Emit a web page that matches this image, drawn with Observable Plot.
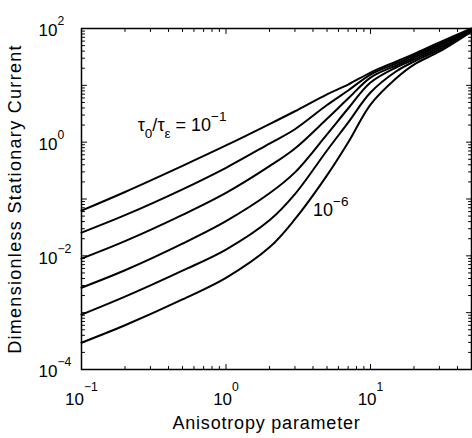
<!DOCTYPE html>
<html><head><meta charset="utf-8">
<script src="https://cdn.jsdelivr.net/npm/d3@7"></script>
<script src="https://cdn.jsdelivr.net/npm/@observablehq/plot@0.6"></script>
<style>body{margin:0;background:#fff}svg{display:block}</style>
</head><body><div id="chart"></div>
<script>
// Anisotropy parameter (x) sample points
const anisotropy = [0.1, 0.2, 0.5, 1, 2, 3, 5, 7, 10, 15, 20, 30, 50];
// Series: tau0/tau_eps ratios
const tauRatios = ["1e-1", "1e-2", "1e-3", "1e-4", "1e-5", "1e-6"];
// Dimensionless stationary current for each ratio
const current_1e1 = [0.0625, 0.133, 0.383, 0.875, 2.08, 3.50, 6.95, 10.3, 16.8, 26.2, 35.6, 56.8, 100];
const current_1e2 = [0.0256, 0.0519, 0.148, 0.354, 0.944, 1.69, 4.50, 8.10, 15.5, 24.2, 33.5, 53.4, 98];
const current_1e3 = [0.00893, 0.0181, 0.0525, 0.128, 0.378, 0.774, 2.58, 5.86, 13.7, 22.3, 30.9, 50.2, 96];
const current_1e4 = [0.00275, 0.00557, 0.0164, 0.0408, 0.126, 0.294, 1.37, 3.91, 11.2, 20.6, 28.5, 46.3, 94];
const current_1e5 = [0.000923, 0.00191, 0.00548, 0.0129, 0.0422, 0.122, 0.714, 2.21, 7.47, 17.5, 26.2, 42.7, 92];
const current_1e6 = [0.000296, 0.000600, 0.00171, 0.00410, 0.0141, 0.0441, 0.260, 0.984, 4.59, 13.2, 23.2, 39.4, 88.5];
// Tick values and labels
const xTickValues = [0.1, 1, 10];
const xTickLabels = ["10^{−1}", "10^{0}", "10^{1}"];
const yTickValues = [1e-4, 1e-2, 1, 100];
const yTickLabels = ["10^{−4}", "10^{−2}", "10^{0}", "10^{2}"];
// Annotations
const annotX = [0.245, 4.0];
const annotY = [1.96, 0.064];
const annotText = ["τ_{0}/τ_{ε} = 10^{−1}", "10^{−6}"];
const xLabel = "Anisotropy parameter";
const yLabel = "Dimensionless Stationary Current";

const seriesValues = [current_1e1, current_1e2, current_1e3, current_1e4, current_1e5, current_1e6];
const rows = tauRatios.flatMap((r, j) => anisotropy.map((x, i) => ({x, y: seriesValues[j][i], series: r})));

const xDomain = [0.1, 50], yDomain = [1e-4, 1e2];
const xMajor = [1, 10];
const xMinor = [];
for (const d of [0.1, 1, 10]) for (let k = 2; k <= 9; k++) { const v = k * d; if (v < 50) xMinor.push(v); }
const yMajor = [1e-3, 1e-2, 1e-1, 1, 10];
const yMinor = [];
for (let e = -4; e < 2; e++) for (let k = 2; k <= 9; k++) yMinor.push(k * 10 ** e);

const tickShape = {draw(ctx, l) { ctx.moveTo(0, 0); ctx.lineTo(0, -l); }};
function ticks(data, axis, len) {
  const common = {length: len, anchor: "start", shape: tickShape, stroke: "black", strokeWidth: 1};
  if (axis === "y") return [
    Plot.vector(data, {...common, x: () => xDomain[0], y: d => d, rotate: 90}),
    Plot.vector(data, {...common, x: () => xDomain[1], y: d => d, rotate: -90})
  ];
  return [
    Plot.vector(data, {...common, y: () => yDomain[0], x: d => d, rotate: 0}),
    Plot.vector(data, {...common, y: () => yDomain[1], x: d => d, rotate: 180})
  ];
}

const font = "'Liberation Sans', Arial, Helvetica, sans-serif";
const svg = Plot.plot({
  width: 472, height: 438,
  marginLeft: 81, marginTop: 28, marginRight: 1, marginBottom: 69,
  style: {fontFamily: font, background: "white", color: "black"},
  x: {type: "log", domain: xDomain, axis: null},
  y: {type: "log", domain: yDomain, axis: null},
  marks: [
    ...ticks(yMajor, "y", 5), ...ticks(yMinor, "y", 3),
    ...ticks(xMajor, "x", 5), ...ticks(xMinor, "x", 3),
    Plot.line(rows, {x: "x", y: "y", z: "series", stroke: "black", strokeWidth: 2, curve: "catmull-rom"}),
    Plot.frame({stroke: "black", strokeWidth: 1.5}),
    Plot.text(yTickValues, {x: () => xDomain[0], y: d => d, text: (d, i) => yTickLabels[i], textAnchor: "start", dx: -43, dy: 2.5, fontSize: 17, fill: "black"}),
    Plot.text(xTickValues, {x: d => d, y: () => yDomain[0], text: (d, i) => xTickLabels[i], textAnchor: "middle", dy: 30, fontSize: 17, fill: "black"}),
    Plot.text(annotText, {x: (d, i) => annotX[i], y: (d, i) => annotY[i], text: d => d, textAnchor: "start", fontSize: 18, fill: "black"}),
    Plot.text([yLabel], {frameAnchor: "left", text: d => d, rotate: -90, textAnchor: "middle", lineAnchor: "middle", dx: -66, fontSize: 18, fill: "black"}),
    Plot.text([xLabel], {frameAnchor: "bottom", text: d => d, textAnchor: "middle", lineAnchor: "middle", dy: 54, dx: -10, fontSize: 18, fill: "black"})
  ]
});
document.getElementById("chart").append(svg);

const NS = "http://www.w3.org/2000/svg";
function richify(el, p) {
  const s = el.textContent;
  if (!/[\^_]\{/.test(s)) return;
  const fs = parseFloat(getComputedStyle(el).fontSize);
  el.textContent = "";
  const re = /([\^_])\{([^}]*)\}|([^\^_]+)/g;
  let m, cur = 0;
  while ((m = re.exec(s))) {
    const t = document.createElementNS(NS, "tspan");
    let target = 0;
    if (m[3] !== undefined) t.textContent = m[3];
    else {
      t.textContent = m[2];
      t.setAttribute("font-size", (p.small * fs).toFixed(1));
      target = m[1] === "^" ? -p.sup : p.sub;
    }
    if (target !== cur) t.setAttribute("dy", (target - cur).toFixed(1));
    cur = target;
    el.appendChild(t);
  }
}
const groups = svg.querySelectorAll('g[aria-label="text"]');
const params = [
  {sup: 11, sub: 6, small: 0.72},
  {sup: 14, sub: 6, small: 0.72},
  {sup: 10, sub: 7, small: 0.75}
];
groups.forEach((g, i) => {
  const p = params[i];
  if (p) g.querySelectorAll("text").forEach(t => richify(t, p));
});
// wider letter spacing of the axis titles, as in the scanned reference
if (groups[3]) groups[3].setAttribute("letter-spacing", "1.3");
if (groups[4]) groups[4].setAttribute("letter-spacing", "0.8");
</script>
</body></html>
